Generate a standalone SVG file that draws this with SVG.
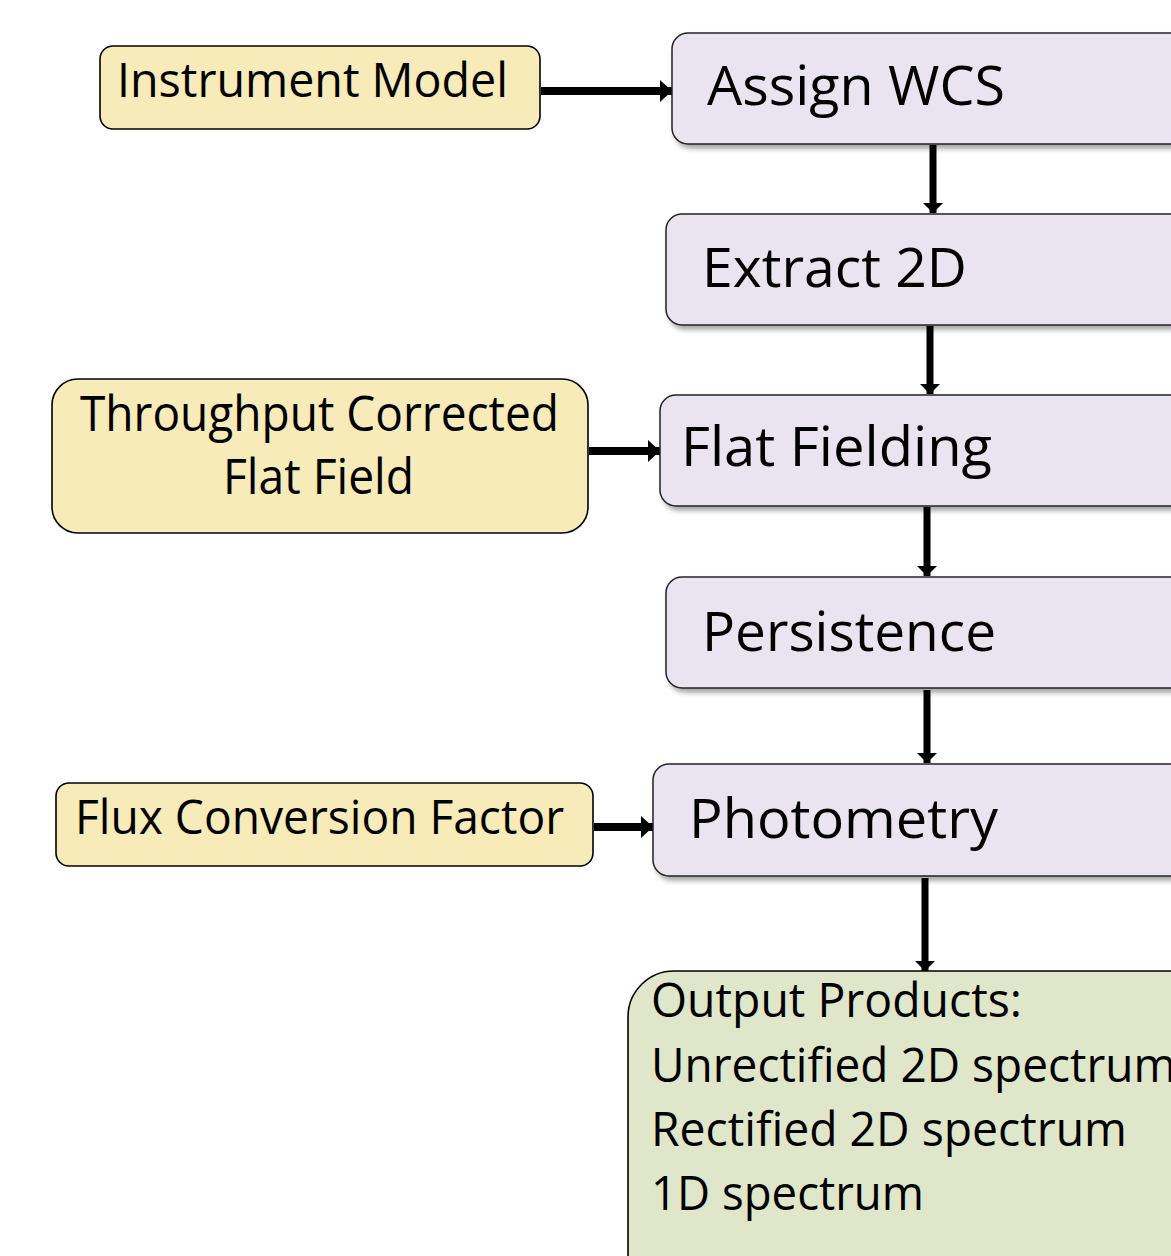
<svg xmlns="http://www.w3.org/2000/svg" width="1171" height="1256" viewBox="0 0 1171 1256">
  <defs>
    <filter id="shadow" x="-10%" y="-10%" width="130%" height="140%">
      <feDropShadow dx="3" dy="4" stdDeviation="2.5" flood-color="#000" flood-opacity="0.35"/>
    </filter>
    <!-- wide head for the feed-in arrows -->
    <marker id="head-h" markerUnits="userSpaceOnUse" markerWidth="13" markerHeight="24" refX="12" refY="11" orient="auto">
      <path d="M0,0 L12,11 L0,22 Z" fill="#000"/>
    </marker>
    <!-- head for the pipeline arrows -->
    <marker id="head-v" markerUnits="userSpaceOnUse" markerWidth="11" markerHeight="21" refX="10" refY="10" orient="auto">
      <path d="M0,0 L10,10 L0,20 Z" fill="#000"/>
    </marker>
  </defs>
  <style>
    .input { fill: #f6ebb9; stroke: #000; stroke-width: 1.6; }
    .step { fill: #e9e4ef; stroke: #222; stroke-width: 1.5; filter: url(#shadow); }
    .output { fill: #dfe6ca; stroke: #000; stroke-width: 1.6; }
    .label { font-family: "Open Sans", "Liberation Sans", sans-serif; fill: #000; }
    .feed { stroke: #000; fill: none; stroke-width: 8; marker-end: url(#head-h); }
    .flow { stroke: #000; fill: none; stroke-width: 7; marker-end: url(#head-v); }
  </style>

  <rect width="1171" height="1256" fill="#fff"/>

  <!-- connectors -->
  <g id="connectors">
    <line class="feed" x1="541" y1="91" x2="672" y2="91"/>
    <line class="flow" x1="933" y1="145" x2="933" y2="213"/>
    <line class="flow" x1="930" y1="326" x2="930" y2="394"/>
    <line class="feed" x1="589" y1="451" x2="660" y2="451"/>
    <line class="flow" x1="927" y1="507" x2="927" y2="576"/>
    <line class="flow" x1="927" y1="690" x2="927" y2="763"/>
    <line class="feed" x1="594" y1="827" x2="653" y2="827"/>
    <line class="flow" x1="925" y1="878" x2="925" y2="971"/>
  </g>

  <!-- calibration inputs -->
  <g id="instrument-model">
    <rect class="input" x="100" y="46" width="440" height="83" rx="13"/>
    <text class="label" x="117" y="97" font-size="48" textLength="391" lengthAdjust="spacingAndGlyphs">Instrument Model</text>
  </g>
  <g id="flat-field">
    <rect class="input" x="52" y="379" width="536" height="154" rx="26"/>
    <text class="label" x="80" y="431" font-size="49" textLength="479" lengthAdjust="spacingAndGlyphs">Throughput Corrected</text>
    <text class="label" x="223" y="494" font-size="49" textLength="191" lengthAdjust="spacingAndGlyphs">Flat Field</text>
  </g>
  <g id="flux-conversion">
    <rect class="input" x="56" y="783" width="537" height="83" rx="13"/>
    <text class="label" x="75" y="834" font-size="48" textLength="489" lengthAdjust="spacingAndGlyphs">Flux Conversion Factor</text>
  </g>

  <!-- processing steps -->
  <g id="assign-wcs">
    <rect class="step" x="672" y="33" width="540" height="111" rx="16"/>
    <text class="label" x="707" y="105" font-size="55" textLength="298" lengthAdjust="spacingAndGlyphs">Assign WCS</text>
  </g>
  <g id="extract-2d">
    <rect class="step" x="666" y="214" width="540" height="111" rx="16"/>
    <text class="label" x="702" y="287" font-size="55" textLength="265" lengthAdjust="spacingAndGlyphs">Extract 2D</text>
  </g>
  <g id="flat-fielding">
    <rect class="step" x="660" y="395" width="540" height="111" rx="16"/>
    <text class="label" x="681" y="466" font-size="55" textLength="311" lengthAdjust="spacingAndGlyphs">Flat Fielding</text>
  </g>
  <g id="persistence">
    <rect class="step" x="666" y="577" width="540" height="111" rx="16"/>
    <text class="label" x="702" y="651" font-size="55" textLength="294" lengthAdjust="spacingAndGlyphs">Persistence</text>
  </g>
  <g id="photometry">
    <rect class="step" x="653" y="764" width="540" height="112" rx="16"/>
    <text class="label" x="689" y="838" font-size="55" textLength="309" lengthAdjust="spacingAndGlyphs">Photometry</text>
  </g>

  <!-- products -->
  <g id="output-products">
    <rect class="output" x="628" y="971" width="600" height="340" rx="46"/>
    <text class="label" x="651" y="1017" font-size="47" textLength="371" lengthAdjust="spacingAndGlyphs">Output Products:</text>
    <text class="label" x="651" y="1082" font-size="47" textLength="525" lengthAdjust="spacingAndGlyphs">Unrectified 2D spectrum</text>
    <text class="label" x="651" y="1146" font-size="47" textLength="476" lengthAdjust="spacingAndGlyphs">Rectified 2D spectrum</text>
    <text class="label" x="651" y="1210" font-size="47" textLength="273" lengthAdjust="spacingAndGlyphs">1D spectrum</text>
  </g>
</svg>
